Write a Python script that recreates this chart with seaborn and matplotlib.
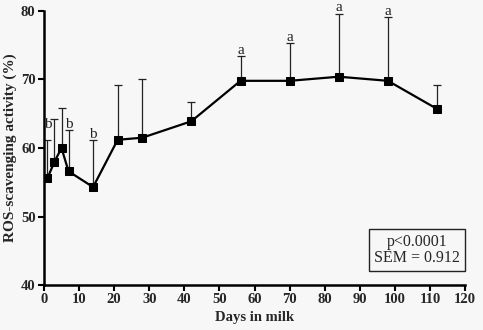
import numpy as np
import pandas as pd
import matplotlib
matplotlib.use("Agg")
import matplotlib.pyplot as plt
import seaborn as sns

days = [1, 3, 5, 7, 14, 21, 28, 42, 56, 70, 84, 98, 112]
means = [55.6, 58.0, 60.0, 56.6, 54.3, 61.2, 61.5, 63.9, 69.8, 69.8, 70.4, 69.8, 65.7]
upper = [61.2, 64.2, 65.8, 62.6, 61.1, 69.2, 70.0, 66.7, 73.4, 75.3, 79.6, 79.1, 69.2]
letters = ["b", "", "", "b", "b", "", "", "", "a", "a", "a", "a", ""]
xticks = list(range(0, 121, 10))
yticks = [40, 50, 60, 70, 80]

df = pd.DataFrame({"day": days, "mean": means, "upper": upper, "letter": letters})
df["err"] = df["upper"] - df["mean"]

sns.set_theme(style="ticks")
plt.rcParams["font.family"] = ["Liberation Serif", "DejaVu Serif"]
bg = "#f7f7f7"

fig = plt.figure(figsize=(4.83, 3.30), dpi=100, facecolor=bg)
ax = fig.add_axes([0.091, 0.136, 0.872, 0.831], facecolor=bg)

ax.errorbar(df["day"], df["mean"], yerr=[np.zeros(len(df)), df["err"]],
            fmt="none", ecolor="#222222", elinewidth=0.9, capsize=3.2,
            capthick=0.9, zorder=2)
sns.lineplot(data=df, x="day", y="mean", ax=ax, color="black", linewidth=1.6,
             marker="s", markersize=6.2, markeredgecolor="black",
             markerfacecolor="black", zorder=3)

for d, u, l in zip(df["day"], df["upper"], df["letter"]):
    if not l:
        continue
    yy = u + 0.35
    if d == 1:
        yy = u + 1.7
    ax.text(d, yy, l, ha="center", va="baseline", fontsize=11,
            color="#222222")

ax.set_xlim(0, 120)
ax.set_ylim(40, 80)
ax.set_xticks(xticks)
ax.set_yticks(yticks)
for lab in ax.get_xticklabels() + ax.get_yticklabels():
    lab.set_fontweight("bold")
    lab.set_fontsize(10.5)
ax.tick_params(axis="both", direction="out", length=4, width=1.5,
               color="black", pad=2)
ax.set_xlabel("Days in milk", fontsize=10.5, fontweight="bold", labelpad=3)
ax.set_ylabel("ROS-scavenging activity (%)", fontsize=11, fontweight="bold",
              labelpad=3)
sns.despine(ax=ax)
for s in ["left", "bottom"]:
    ax.spines[s].set_linewidth(1.8)
    ax.spines[s].set_color("black")

ax.text(106.3, 45.1, "p<0.0001\nSEM = 0.912", ha="center", va="center",
        fontsize=11.5, linespacing=1.0,
        bbox=dict(boxstyle="square,pad=0.3", facecolor=bg,
                  edgecolor="#222222", linewidth=1.0))

fig.savefig("out.png", dpi=100, facecolor=bg)
